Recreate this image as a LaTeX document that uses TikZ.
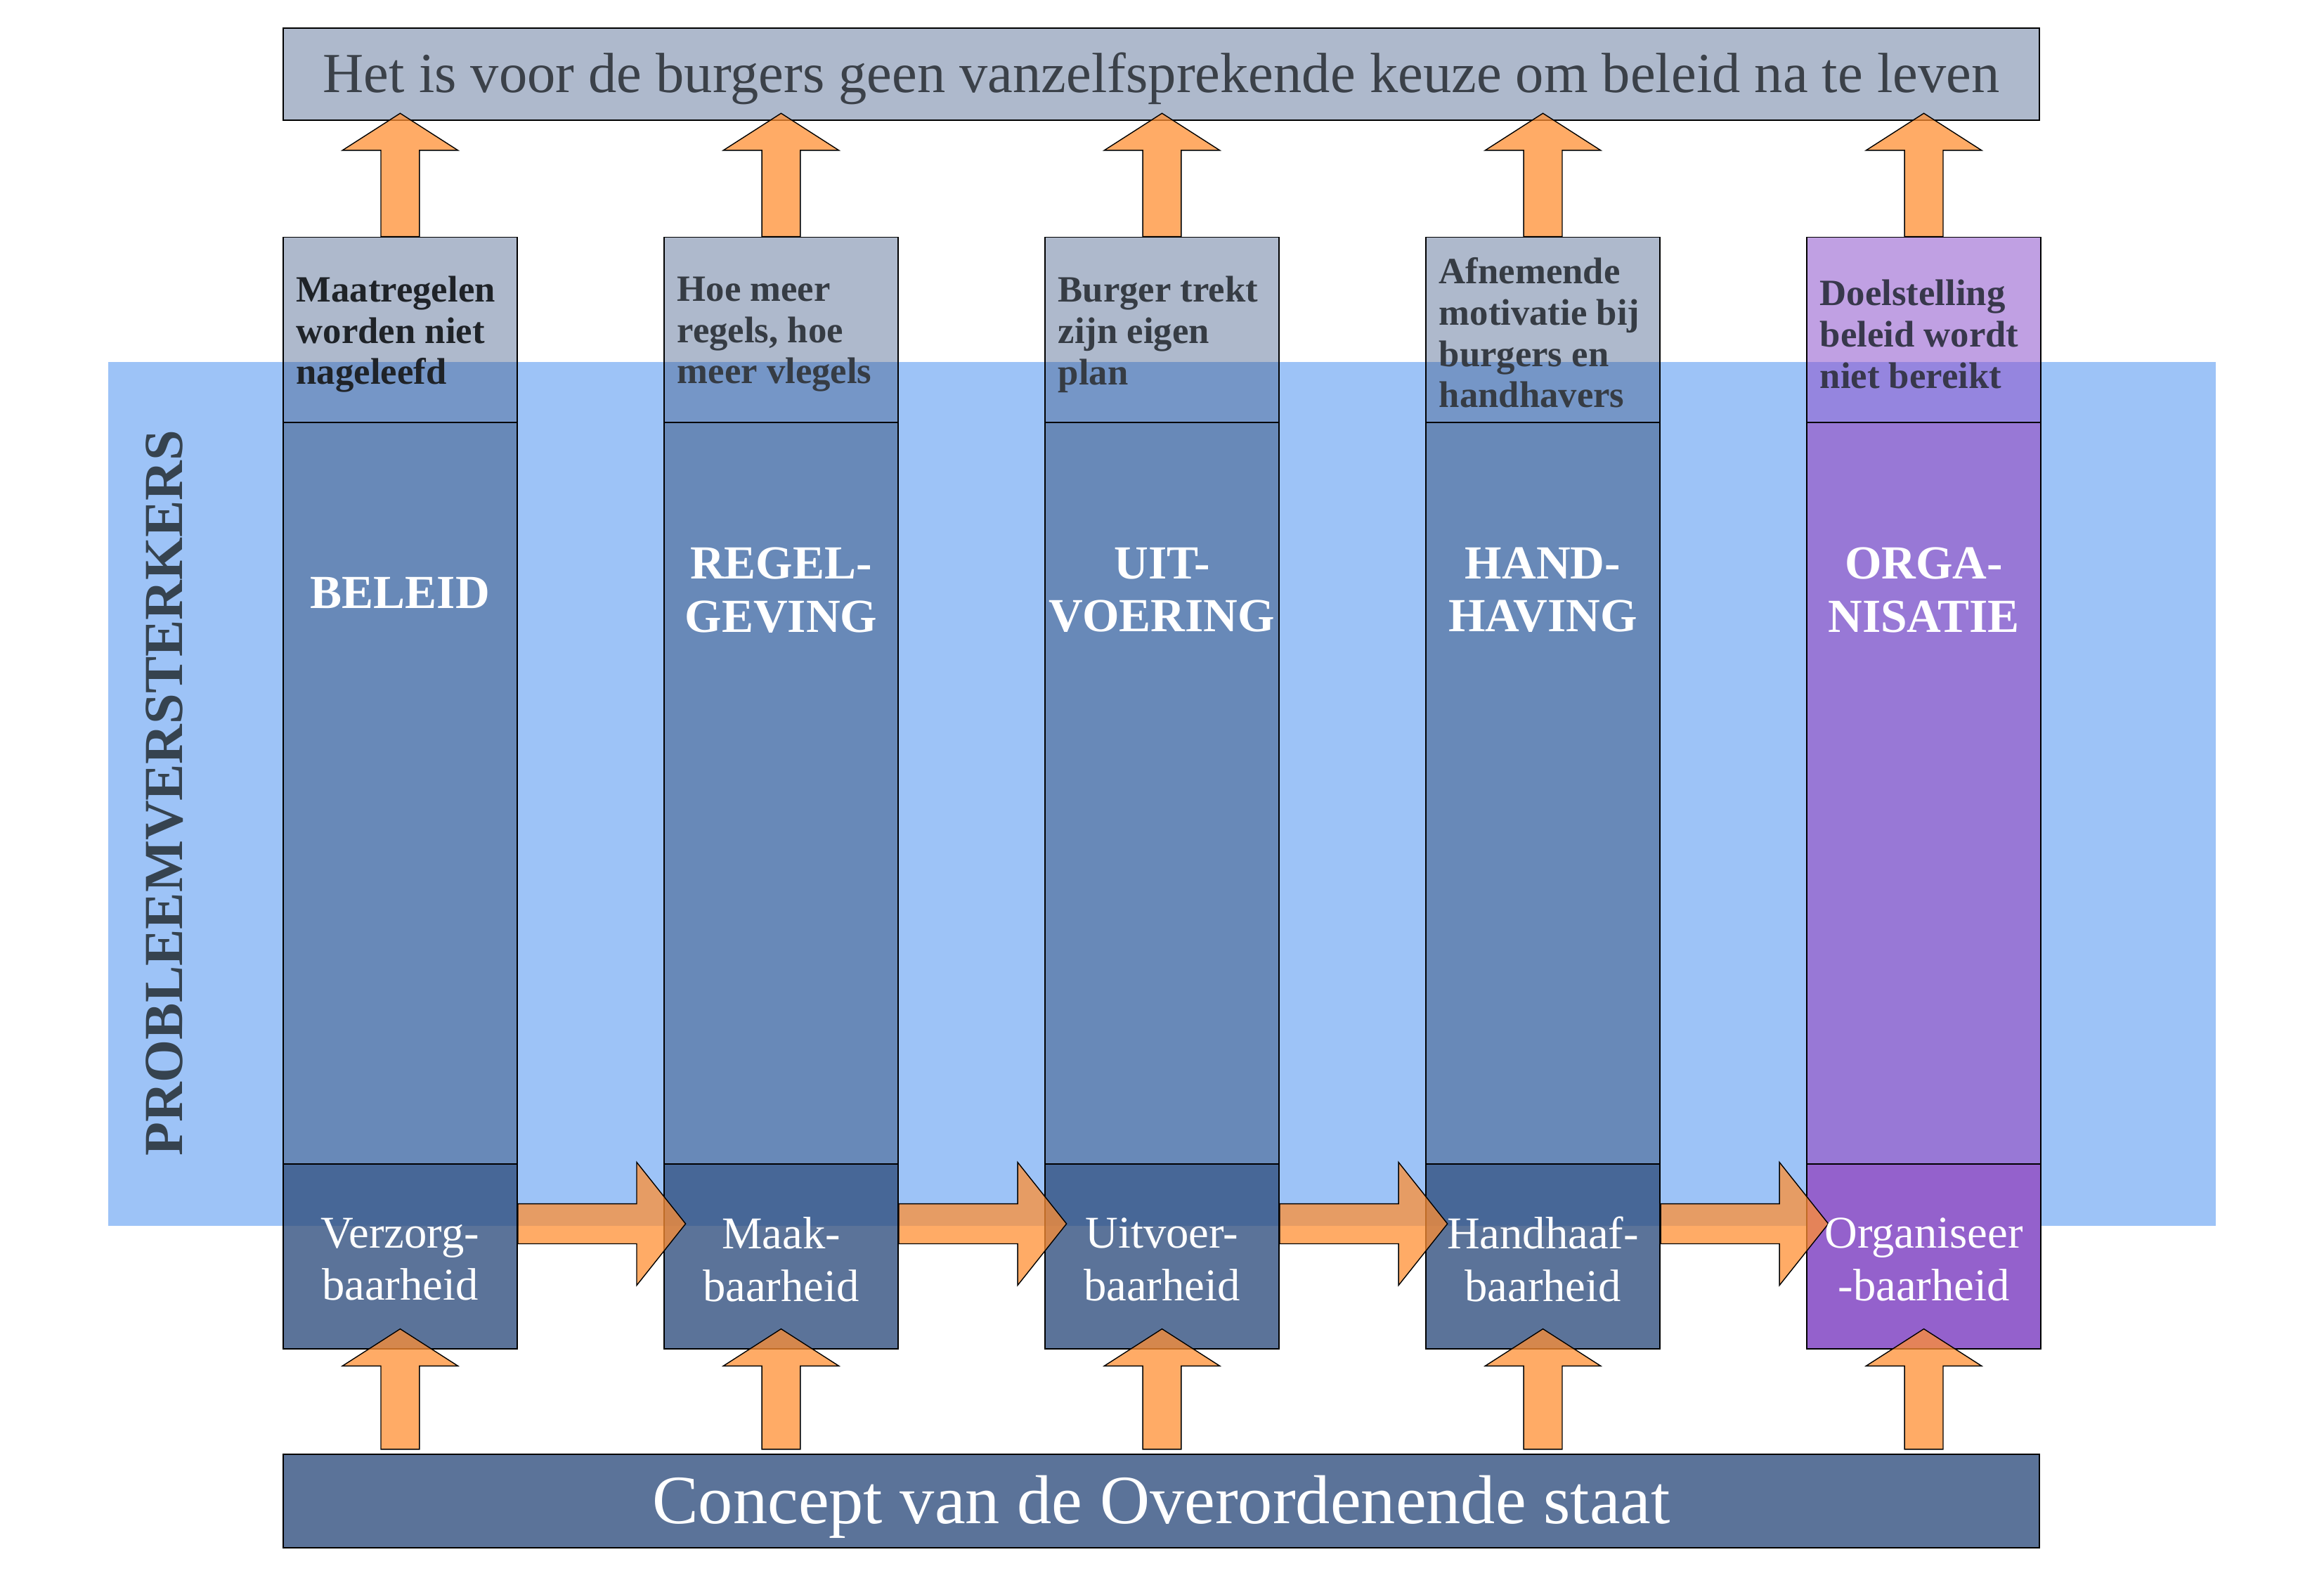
\documentclass[tikz,border=0pt]{standalone}
\usepackage{fontspec}
\setmainfont{Liberation Serif}
\usetikzlibrary{calc}
\definecolor{bandc}{HTML}{9DC3F7}
\definecolor{topb}{HTML}{3E5885}
\definecolor{midb}{HTML}{6889B8}
\definecolor{botb}{HTML}{32507F}
\definecolor{concc}{HTML}{5B7399}
\definecolor{topp}{HTML}{8F56CD}
\definecolor{midp}{HTML}{9878D6}
\definecolor{botp}{HTML}{9461CC}
\definecolor{arrc}{HTML}{FF8F33}
\definecolor{titletxt}{HTML}{3B4149}
\definecolor{smalltxt}{HTML}{363C44}
\definecolor{smalltxtA}{HTML}{1F2328}
\definecolor{smalltxtP}{HTML}{38384C}
\definecolor{verttxt}{HTML}{36434F}
\def\pxu{0.02109cm}
\newcommand\uparr[2]{%
  \path[blockarr] let \p1=(#1), \p2=(#2) in
    (\x1-7.8pt,\y1) -- (\x1-7.8pt,\y2-15pt) -- (\x1-23.4pt,\y2-15pt) -- (\x1,\y2)
    -- (\x1+23.4pt,\y2-15pt) -- (\x1+7.8pt,\y2-15pt) -- (\x1+7.8pt,\y1) -- cycle;}
\newcommand\rightarr[2]{%
  \path[blockarr] let \p1=(#1), \p2=(#2) in
    (\x1,\y1+8.1pt) -- (\x2-19.8pt,\y1+8.1pt) -- (\x2-19.8pt,\y1+24.9pt) -- (\x2,\y1)
    -- (\x2-19.8pt,\y1-24.9pt) -- (\x2-19.8pt,\y1-8.1pt) -- (\x1,\y1-8.1pt) -- cycle;}
\begin{document}
\begin{tikzpicture}[x=0.02109cm,y=-0.02109cm,
  sz/.style n args={2}{minimum width=#1*\pxu, minimum height=#2*\pxu},
  box/.style={draw=black, line width=0.5pt, inner sep=0pt, text opacity=1},
  topbox/.style={box, fill=topb, fill opacity=0.42},
  midbox/.style={box, fill=midb},
  botbox/.style={box, fill=botb, fill opacity=0.8},
  toppbox/.style={box, fill=topp, fill opacity=0.56},
  midpbox/.style={box, fill=midp},
  botpbox/.style={box, fill=botp},
  blockarr/.style={fill=arrc, fill opacity=0.75, draw=black, line width=0.4pt},
  smalltext/.style={font=\fontsize{15}{16.7}\selectfont\bfseries, align=left, inner sep=0pt, anchor=west},
  headtext/.style={font=\fontsize{19.2}{21.5}\selectfont\bfseries, text=white, align=center, inner sep=0pt},
  bottext/.style={font=\fontsize{18.4}{21.2}\selectfont, text=white, align=center, inner sep=0pt}
]
\useasboundingbox (0,0) rectangle (1568,1064);
% band
\node[fill=bandc, inner sep=0pt, sz={1422}{583}] (band) at (784,535.5) {};
% title and concept boxes
\node[topbox, sz={1185}{62}] (title) at (783.5,50) {};
\node[box, fill=concc, sz={1185}{63}] (concept) at (783.5,1012.5) {};
% columns
\foreach \i/\tp/\md/\bt in {1/topbox/midbox/botbox,2/topbox/midbox/botbox,3/topbox/midbox/botbox,4/topbox/midbox/botbox,5/toppbox/midpbox/botpbox}{
  \pgfmathsetmacro\cx{270+257*(\i-1)}
  \node[\tp, sz={158}{125}] (t\i) at (\cx,222.5) {};
  \node[\md, sz={158}{500}] (m\i) at (\cx,535) {};
  \node[\bt, sz={158}{125}] (b\i) at (\cx,847.5) {};
}
% arrows
\foreach \i in {1,...,5}{
  \uparr{t\i.north}{$(title.south -| t\i.north)+(0,-5)$}
  \uparr{$(concept.north -| b\i.south)+(0,-3)$}{$(b\i.south)+(0,-14)$}
}
\foreach \i/\j in {1/2,2/3,3/4,4/5}{
  \rightarr{$(b\i.east)+(0,-22)$}{$(b\j.west)+(15,-22)$}
}
% texts
\node[font=\fontsize{22.9}{27}\selectfont, text=titletxt, inner sep=0pt] (titletext) at ($(title.center)+(0,3)$) {Het is voor de burgers geen vanzelfsprekende keuze om beleid na te leven};
\node[font=\fontsize{28}{33}\selectfont, text=white, inner sep=0pt] (concepttext) at ($(concept.center)+(0,4)$) {Concept van de Overordenende staat};
\node[rotate=90, font=\fontsize{22.3}{26}\selectfont\bfseries, text=verttxt, inner sep=0pt] (vert) at (111,535) {PROBLEEMVERSTERKERS};

\node[smalltext, text=smalltxtA] (s1) at ($(t1.west)+(9,3)$) {Maatregelen\\worden niet\\nageleefd};
\node[smalltext, text=smalltxt] (s2) at ($(t2.west)+(9,3)$) {Hoe meer\\regels, hoe\\meer vlegels};
\node[smalltext, text=smalltxt] (s3) at ($(t3.west)+(9,3)$) {Burger trekt\\zijn eigen\\plan};
\node[smalltext, text=smalltxt] (s4) at ($(t4.west)+(9,2)$) {Afnemende\\motivatie bij\\burgers en\\handhavers};
\node[smalltext, text=smalltxtP] (s5) at ($(t5.west)+(9,3)$) {Doelstelling\\beleid wordt\\niet bereikt};

\node[headtext] (h1) at (270,400) {BELEID};
\node[headtext] (h2) at (527,398) {REGEL-\\GEVING};
\node[headtext] (h3) at (784,398) {UIT-\\VOERING};
\node[headtext] (h4) at (1041,398) {HAND-\\HAVING};
\node[headtext] (h5) at (1298,398) {ORGA-\\NISATIE};

\node[bottext] (l1) at ($(b1.center)+(0,2)$) {Verzorg-\\baarheid};
\node[bottext] (l2) at ($(b2.center)+(0,2)$) {Maak-\\baarheid};
\node[bottext] (l3) at ($(b3.center)+(0,2)$) {Uitvoer-\\baarheid};
\node[bottext] (l4) at ($(b4.center)+(0,2)$) {Handhaaf-\\baarheid};
\node[bottext] (l5) at ($(b5.center)+(0,2)$) {Organiseer\\-baarheid};
\end{tikzpicture}
\end{document}
